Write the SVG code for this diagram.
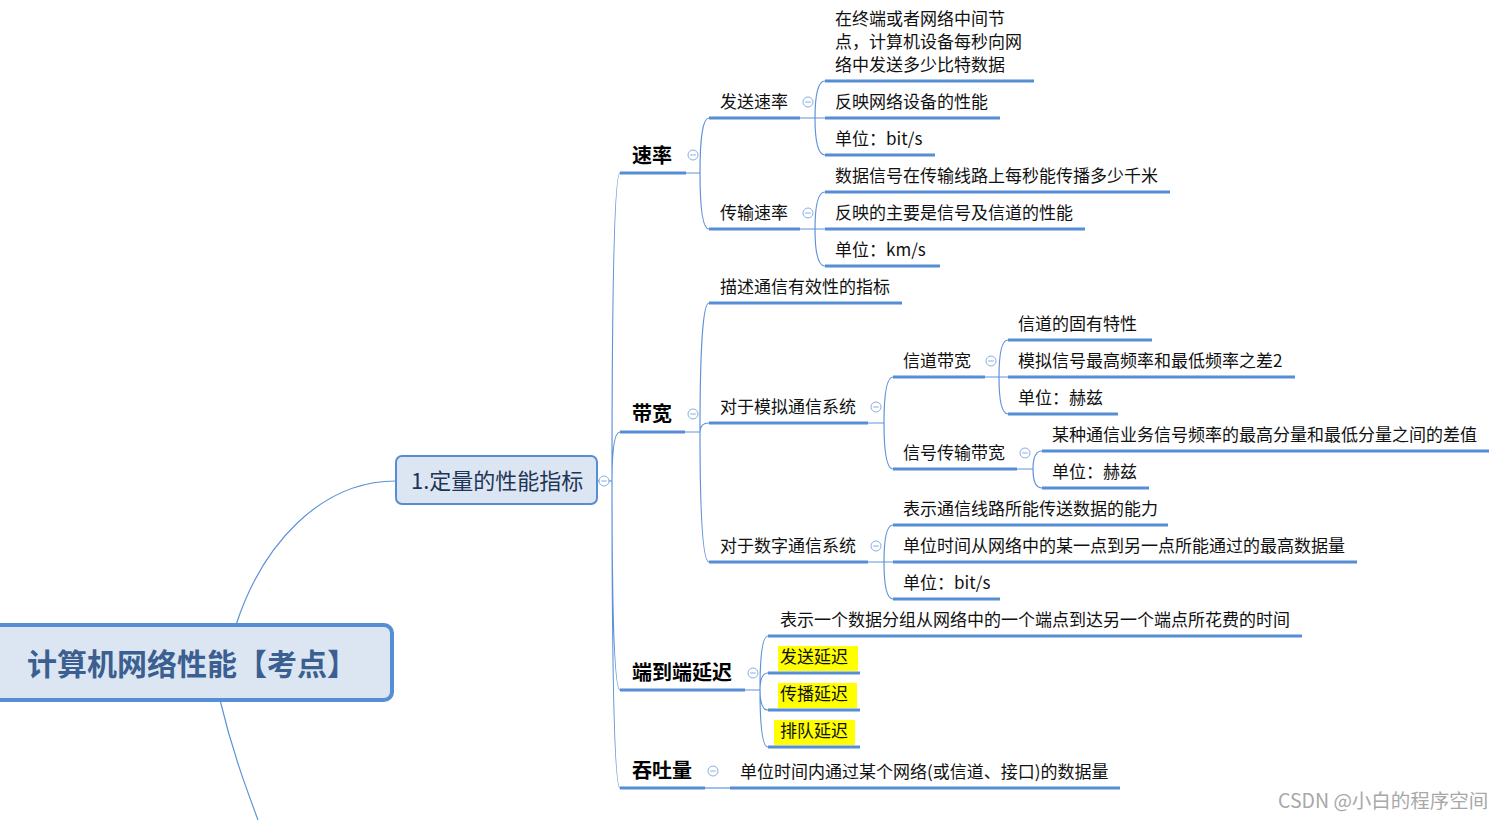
<svg xmlns="http://www.w3.org/2000/svg" width="1503" height="820" viewBox="0 0 1503 820">
<style>
text{font-family:"Microsoft YaHei","Noto Sans CJK SC","Noto Sans",sans-serif;fill:#111}
.t{font-size:17px}
.l1{font-size:20px;font-weight:bold;fill:#000}
.ul{stroke:#558ED5;stroke-width:3;fill:none}
.cn{stroke:#5f93d9;stroke-width:1.2;fill:none}
.cc{fill:#fff;stroke:#8aaee0;stroke-width:1}
.cm{stroke:#8aaee0;stroke-width:1}
.hl{fill:#ffff00}
</style>
<defs>
<g id="col"><circle class="cc" cx="0" cy="0" r="5"/><line class="cm" x1="-2.8" y1="0" x2="2.8" y2="0"/></g>
</defs>
<rect width="1503" height="820" fill="#fff"/>

<g id="connectors">
<path class="cn" d="M236,625 C262,545 320,481 396,481"/>
<path class="cn" d="M220,700 C232,750 245,785 258,820"/>
<path class="cn" d="M597,481 H612"/>
<path class="cn" d="M612,481 Q612,173 620,173 M612,481 Q612,432 620,432 M612,481 Q612,690 620,690 M612,481 Q612,788 620,788"/>
<path class="cn" d="M685,173 H700 M700,173 Q700,118 709,118 M700,173 Q700,229 709,229"/>
<path class="cn" d="M800,118 H815 M815,118 Q815,81 825,81 M815,118 Q815,118 825,118 M815,118 Q815,155 825,155"/>
<path class="cn" d="M800,229 H815 M815,229 Q815,192 825,192 M815,229 Q815,229 825,229 M815,229 Q815,266 825,266"/>
<path class="cn" d="M685,432 H700 M700,432 Q700,303 709,303 M700,432 Q700,423 709,423 M700,432 Q700,562 709,562"/>
<path class="cn" d="M868,423 H884 M884,423 Q884,377 893,377 M884,423 Q884,469 893,469"/>
<path class="cn" d="M985,377 H999 M999,377 Q999,340 1008,340 M999,377 Q999,377 1008,377 M999,377 Q999,414 1008,414"/>
<path class="cn" d="M1017,469 H1033 M1033,469 Q1033,451 1042,451 M1033,469 Q1033,488 1042,488"/>
<path class="cn" d="M868,562 H884 M884,562 Q884,525 893,525 M884,562 Q884,562 893,562 M884,562 Q884,599 893,599"/>
<path class="cn" d="M745,690 H760 M760,690 Q760,636 768,636 M760,690 Q760,673 768,673 M760,690 Q760,710 768,710 M760,690 Q760,747 768,747"/>
<path class="cn" d="M705,788 H730"/>
</g>

<g id="root">
<rect x="-10" y="625" width="402" height="75" rx="8" fill="#dce6f2" stroke="#558ED5" stroke-width="4"/>
<text x="27" y="675" style="font-size:30px;font-weight:bold;fill:#3a5f90">计算机网络性能【考点】</text>
</g>

<g id="n1">
<rect x="396" y="456" width="201" height="48" rx="6" fill="#dce6f2" stroke="#558ED5" stroke-width="2"/>
<text x="411" y="489" style="font-size:22px;fill:#1f3557">1.定量的性能指标</text>
<use href="#col" x="604" y="481"/>
</g>

<g id="sulv">
<line class="ul" x1="620" y1="173" x2="686" y2="173"/>
<text class="l1" x="632" y="163">速率</text>
<use href="#col" x="693" y="155"/>
</g>
<g id="fasong">
<line class="ul" x1="709" y1="118" x2="800" y2="118"/>
<text class="t" x="720" y="108">发送速率</text>
<use href="#col" x="808" y="102"/>
</g>
<g id="fasong-1">
<line class="ul" x1="825" y1="81" x2="1034" y2="81"/>
<text class="t" x="835" y="25">在终端或者网络中间节</text>
<text class="t" x="835" y="48">点，计算机设备每秒向网</text>
<text class="t" x="835" y="71">络中发送多少比特数据</text>
</g>
<g id="fasong-2">
<line class="ul" x1="825" y1="118" x2="1000" y2="118"/>
<text class="t" x="835" y="108">反映网络设备的性能</text>
</g>
<g id="fasong-3">
<line class="ul" x1="825" y1="155" x2="935" y2="155"/>
<text class="t" x="835" y="145">单位：bit/s</text>
</g>
<g id="chuanshu">
<line class="ul" x1="709" y1="229" x2="800" y2="229"/>
<text class="t" x="720" y="219">传输速率</text>
<use href="#col" x="808" y="213"/>
</g>
<g id="chuanshu-1">
<line class="ul" x1="825" y1="192" x2="1170" y2="192"/>
<text class="t" x="835" y="182">数据信号在传输线路上每秒能传播多少千米</text>
</g>
<g id="chuanshu-2">
<line class="ul" x1="825" y1="229" x2="1085" y2="229"/>
<text class="t" x="835" y="219">反映的主要是信号及信道的性能</text>
</g>
<g id="chuanshu-3">
<line class="ul" x1="825" y1="266" x2="940" y2="266"/>
<text class="t" x="835" y="256">单位：km/s</text>
</g>

<g id="daikuan">
<line class="ul" x1="620" y1="432" x2="685" y2="432"/>
<text class="l1" x="632" y="421">带宽</text>
<use href="#col" x="693" y="414"/>
</g>
<g id="daikuan-1">
<line class="ul" x1="709" y1="303" x2="902" y2="303"/>
<text class="t" x="720" y="293">描述通信有效性的指标</text>
</g>
<g id="moni">
<line class="ul" x1="709" y1="423" x2="868" y2="423"/>
<text class="t" x="720" y="413">对于模拟通信系统</text>
<use href="#col" x="876" y="407"/>
</g>
<g id="xindao">
<line class="ul" x1="893" y1="377" x2="985" y2="377"/>
<text class="t" x="903" y="367">信道带宽</text>
<use href="#col" x="991" y="361"/>
</g>
<g id="xindao-1">
<line class="ul" x1="1008" y1="340" x2="1152" y2="340"/>
<text class="t" x="1018" y="330">信道的固有特性</text>
</g>
<g id="xindao-2">
<line class="ul" x1="1008" y1="377" x2="1295" y2="377"/>
<text class="t" x="1018" y="367">模拟信号最高频率和最低频率之差2</text>
</g>
<g id="xindao-3">
<line class="ul" x1="1008" y1="414" x2="1118" y2="414"/>
<text class="t" x="1018" y="404">单位：赫兹</text>
</g>
<g id="xinhao">
<line class="ul" x1="893" y1="469" x2="1017" y2="469"/>
<text class="t" x="903" y="459">信号传输带宽</text>
<use href="#col" x="1025" y="453"/>
</g>
<g id="xinhao-1">
<line class="ul" x1="1042" y1="451" x2="1489" y2="451"/>
<text class="t" x="1052" y="441">某种通信业务信号频率的最高分量和最低分量之间的差值</text>
</g>
<g id="xinhao-2">
<line class="ul" x1="1042" y1="488" x2="1149" y2="488"/>
<text class="t" x="1052" y="478">单位：赫兹</text>
</g>
<g id="shuzi">
<line class="ul" x1="709" y1="562" x2="868" y2="562"/>
<text class="t" x="720" y="552">对于数字通信系统</text>
<use href="#col" x="876" y="546"/>
</g>
<g id="shuzi-1">
<line class="ul" x1="893" y1="525" x2="1168" y2="525"/>
<text class="t" x="903" y="515">表示通信线路所能传送数据的能力</text>
</g>
<g id="shuzi-2">
<line class="ul" x1="893" y1="562" x2="1357" y2="562"/>
<text class="t" x="903" y="552">单位时间从网络中的某一点到另一点所能通过的最高数据量</text>
</g>
<g id="shuzi-3">
<line class="ul" x1="893" y1="599" x2="1000" y2="599"/>
<text class="t" x="903" y="589">单位：bit/s</text>
</g>

<g id="yanchi">
<line class="ul" x1="620" y1="690" x2="745" y2="690"/>
<text class="l1" x="632" y="680">端到端延迟</text>
<use href="#col" x="753" y="673"/>
</g>
<g id="yanchi-1">
<line class="ul" x1="768" y1="636" x2="1302" y2="636"/>
<text class="t" x="780" y="626">表示一个数据分组从网络中的一个端点到达另一个端点所花费的时间</text>
</g>
<g id="yanchi-2">
<rect class="hl" x="778" y="646" width="80" height="25"/>
<line class="ul" x1="768" y1="673" x2="860" y2="673"/>
<text class="t" x="780" y="663">发送延迟</text>
</g>
<g id="yanchi-3">
<rect class="hl" x="778" y="683" width="79" height="25"/>
<line class="ul" x1="768" y1="710" x2="860" y2="710"/>
<text class="t" x="780" y="700">传播延迟</text>
</g>
<g id="yanchi-4">
<rect class="hl" x="774" y="720" width="81" height="25"/>
<line class="ul" x1="768" y1="747" x2="860" y2="747"/>
<text class="t" x="780" y="737">排队延迟</text>
</g>

<g id="tuntu">
<line class="ul" x1="620" y1="788" x2="705" y2="788"/>
<text class="l1" x="632" y="778">吞吐量</text>
<use href="#col" x="713" y="771"/>
</g>
<g id="tuntu-1">
<line class="ul" x1="730" y1="788" x2="1120" y2="788"/>
<text class="t" x="740" y="778">单位时间内通过某个网络(或信道、接口)的数据量</text>
</g>

<text x="1278" y="808" style="font-size:19.5px;fill:#a8a8a8">CSDN @小白的程序空间</text>
</svg>
